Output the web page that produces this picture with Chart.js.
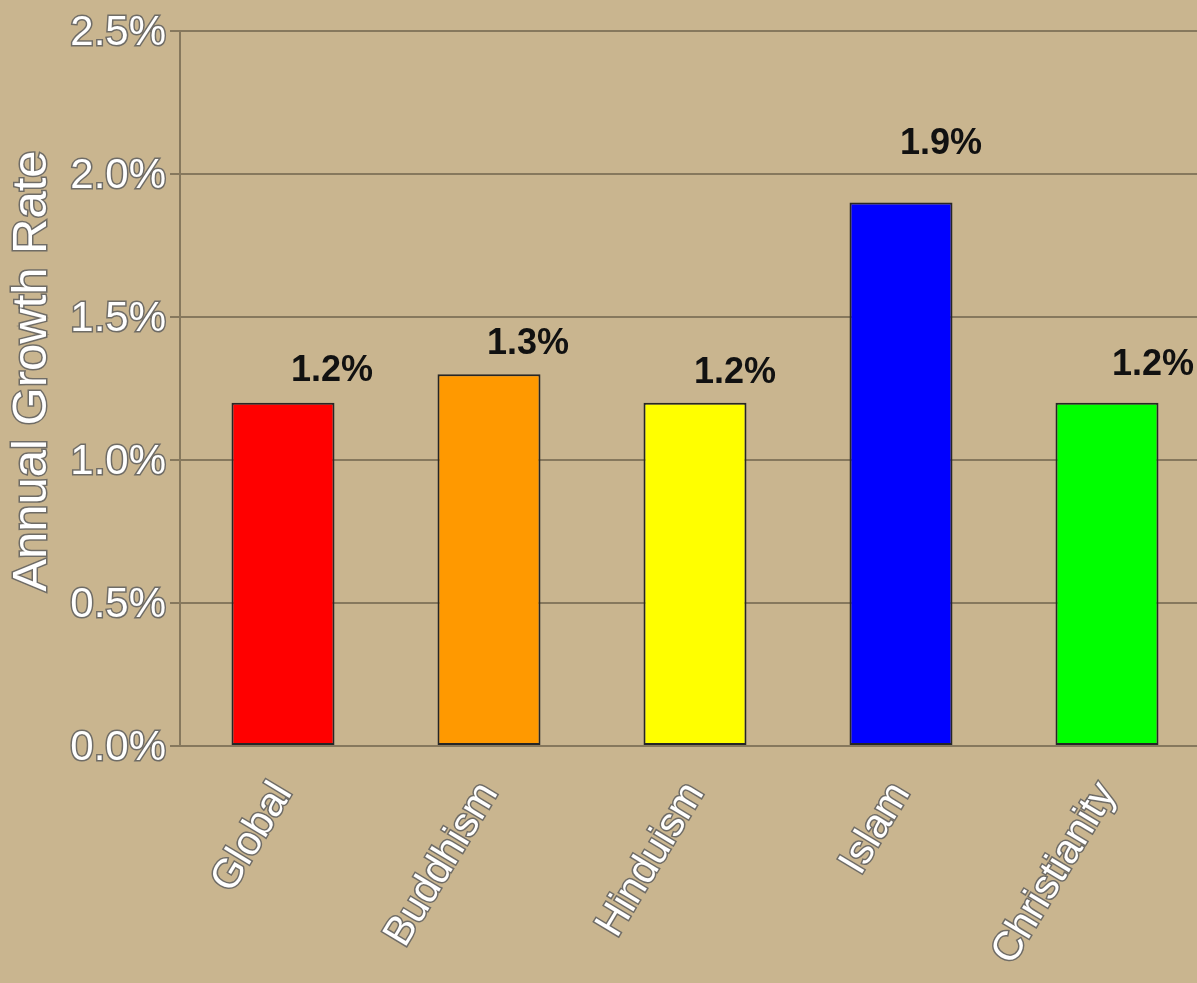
<!DOCTYPE html>
<html>
<head>
<meta charset="utf-8">
<script src="https://cdn.jsdelivr.net/npm/chart.js@4"></script>
<style>
    html, body { margin: 0; padding: 0; overflow: hidden; background: #c9b58f; }
    #wrap { position: relative; width: 1210px; height: 983px; }
</style>
</head>
<body>
<div id="wrap"><canvas id="growth_chart"></canvas></div>
<script>
"use strict";

// Chart data
var categories = ['Global', 'Buddhism', 'Hinduism', 'Islam', 'Christianity'];
var growthRates = [1.2, 1.3, 1.2, 1.9, 1.2];
var barColors = ['#ff0000', '#ff9900', '#ffff00', '#0000ff', '#00ff00'];
var yTicks = [0, 0.5, 1.0, 1.5, 2.0, 2.5];
var yTitle = 'Annual Growth Rate';

var FONT = "'Liberation Sans', Arial, sans-serif";
var OUTLINE = 'rgba(95,95,95,0.85)';

var GrowthChart = function () {
    // value labels sit up and to the right of each bar
    var valueLabels = {
        id: 'valueLabels',
        afterDatasetsDraw: function (chart) {
            var shift = [[49, -32], [39, -30], [40, -30], [40, -59], [46, -38]];
            var ctx = chart.ctx;
            var meta = chart.getDatasetMeta(0);
            ctx.save();
            ctx.font = 'bold 36px ' + FONT;
            ctx.fillStyle = '#111';
            ctx.textAlign = 'center';
            ctx.textBaseline = 'middle';
            meta.data.forEach(function (bar, i) {
                var s = shift[i] || [45, -30];
                ctx.fillText(growthRates[i].toFixed(1) + '%', bar.x + s[0], bar.y + s[1]);
            });
            ctx.restore();
        }
    };

    // y axis title, drawn by hand so it can carry the same outline as the ticks
    var axisTitle = {
        id: 'axisTitle',
        afterDraw: function (chart) {
            var ctx = chart.ctx;
            ctx.save();
            ctx.translate(32, 371);
            ctx.rotate(-Math.PI / 2);
            ctx.font = '49px ' + FONT;
            ctx.textAlign = 'center';
            ctx.textBaseline = 'middle';
            ctx.lineWidth = 3;
            ctx.strokeStyle = OUTLINE;
            ctx.strokeText(yTitle, 0, 0);
            ctx.fillStyle = '#ffffff';
            ctx.fillText(yTitle, 0, 0);
            ctx.restore();
        }
    };

    var initChart = function () {
        var element = document.getElementById('growth_chart');
        var config = {
            type: 'bar',
            data: {
                labels: categories,
                datasets: [{
                    data: growthRates,
                    backgroundColor: barColors,
                    borderColor: '#262626',
                    borderWidth: 2,
                    borderSkipped: false,
                    barPercentage: 0.5,
                    categoryPercentage: 1.0
                }]
            },
            options: {
                responsive: true,
                maintainAspectRatio: false,
                animation: false,
                layout: { padding: { top: 31, left: 0, right: 0, bottom: 0 } },
                scales: {
                    x: {
                        afterFit: function (s) { s.height = 237; },
                        grid: { display: false },
                        border: { display: false },
                        ticks: {
                            minRotation: 59,
                            maxRotation: 59,
                            padding: 20,
                            color: '#ffffff',
                            textStrokeColor: OUTLINE,
                            textStrokeWidth: 3,
                            font: { family: FONT, size: 41 }
                        }
                    },
                    y: {
                        min: 0,
                        max: 2.5,
                        afterFit: function (s) { s.width = 180; },
                        afterBuildTicks: function (s) {
                            s.ticks = yTicks.map(function (v) { return { value: v }; });
                        },
                        grid: {
                            color: 'rgba(90,80,60,0.6)',
                            lineWidth: 2,
                            tickLength: 10
                        },
                        border: { display: true, color: 'rgba(90,80,60,0.6)', width: 2 },
                        ticks: {
                            padding: 4,
                            labelOffset: 2,
                            color: '#ffffff',
                            textStrokeColor: OUTLINE,
                            textStrokeWidth: 3,
                            font: { family: FONT, size: 42 },
                            callback: function (value) { return value.toFixed(1) + '%'; }
                        }
                    }
                },
                plugins: {
                    legend: { display: false },
                    tooltip: { enabled: false }
                }
            },
            plugins: [valueLabels, axisTitle]
        };
        element.chartInstance = new Chart(element.getContext('2d'), config);
    };

    return {
        init: function () {
            initChart();
        }
    };
}();

document.addEventListener('DOMContentLoaded', function () {
    GrowthChart.init();
});
</script>
</body>
</html>
